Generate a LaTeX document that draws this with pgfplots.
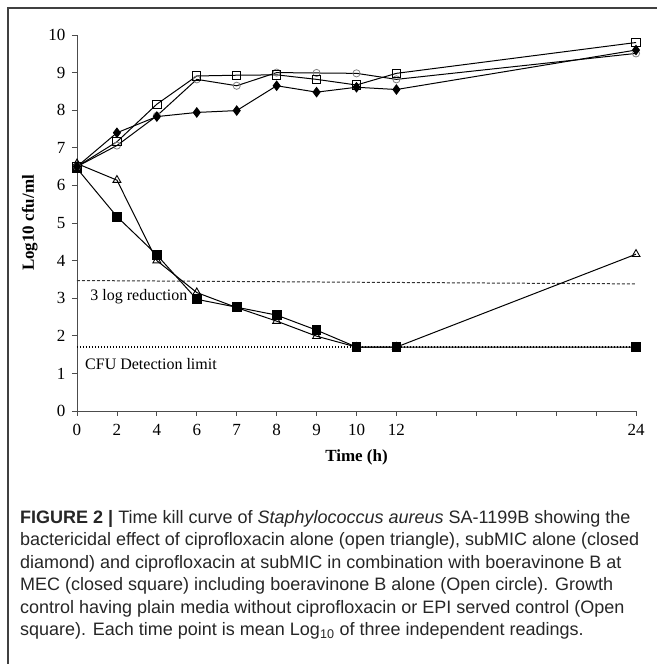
\documentclass[border=0pt]{standalone}
\usepackage{fontspec}
\setmainfont{Liberation Serif}
\newfontfamily\capfont{Liberation Sans}
\usepackage{pgfplots}
\pgfplotsset{compat=1.18}
\begin{document}
\begin{tikzpicture}[x=1pt,y=1pt]
\useasboundingbox (0,0) rectangle (657,664);
\draw[black!75, line width=1.2pt] (8,0) -- (8,656) -- (657,656);
\begin{axis}[
  at={(77pt,253pt)}, anchor=south west,
  scale only axis, width=559pt, height=376pt,
  xmin=0, xmax=14, ymin=0, ymax=10,
  axis lines=left, axis line style={-, black!70, line width=0.8pt},
  xtick={0,1,2,3,4,5,6,7,8,9,10,11,12,13,14},
  xticklabels={0,2,4,6,7,8,9,10,12,,,,,,24},
  ytick={0,1,2,3,4,5,6,7,8,9,10},
  tick align=outside, major tick length=5pt,
  tick style={black!70, line width=0.8pt},
  /pgf/number format/assume math mode=true,
  tick label style={font=\fontsize{17}{20}\selectfont},
  xticklabel style={yshift=-5pt},
  yticklabel style={xshift=-3pt},
  xlabel={\textbf{Time (h)}}, ylabel={\textbf{Log10 cfu/ml}},
  label style={font=\fontsize{17}{20}\selectfont},
  xlabel style={yshift=-7pt},
  ylabel style={yshift=4pt},
  clip=false,
  every axis plot/.append style={line width=1pt, black},
]
% reference lines
\addplot[densely dashed, line width=1pt, black!80, mark=none] coordinates {(0,3.47) (14,3.38)};
\addplot[dotted, line width=1.8pt, black, mark=none] coordinates {(0,1.7) (14,1.7)};
% ciprofloxacin alone (open triangle)
\addplot[mark=triangle, mark size=4.6pt, mark options={fill=white, line width=0.9pt}] coordinates {
(0,6.58) (1,6.14) (2,4.00) (3,3.15) (4,2.75) (5,2.39) (6,1.99) (7,1.70) (8,1.70) (14,4.17)};
% combination (closed square)
\addplot[mark=square*, mark size=4.4pt] coordinates {
(0,6.45) (1,5.17) (2,4.15) (3,2.97) (4,2.76) (5,2.55) (6,2.15) (7,1.70) (8,1.70) (14,1.70)};
% boeravinone B alone (open circle)
\addplot[mark=o, mark size=3.6pt, mark options={draw=black!50, line width=0.8pt}] coordinates {
(0,6.5) (1,7.06) (2,7.85) (3,8.82) (4,8.65) (5,9.00) (6,8.99) (7,8.98) (8,8.82) (14,9.51)};
% subMIC alone (closed diamond)
\addplot[mark=diamond*, mark size=4.6pt] coordinates {
(0,6.5) (1,7.40) (2,7.83) (3,7.94) (4,7.99) (5,8.65) (6,8.48) (7,8.61) (8,8.55) (14,9.60)};
% growth control (open square)
\addplot[mark=square, mark size=4.1pt, mark options={fill=white, line width=0.9pt}] coordinates {
(0,6.5) (1,7.16) (2,8.16) (3,8.91) (4,8.93) (5,8.94) (6,8.82) (7,8.67) (8,8.98) (14,9.80)};
\node[anchor=west, font=\fontsize{16}{19}\selectfont, inner sep=0pt] at (axis cs:0.33,3.03) {3 log reduction};
\node[anchor=west, font=\fontsize{16}{19}\selectfont, inner sep=0pt] at (axis cs:0.2,1.25) {CFU Detection limit};
\end{axis}
\node[anchor=north west, align=left, inner sep=0pt, text=black!85,
      font=\capfont\fontsize{18}{22.5}\selectfont] at (20,154)
{\textbf{FIGURE 2 |} Time kill curve of \textit{Staphylococcus aureus} SA-1199B showing the\\
bactericidal effect of ciprofloxacin alone (open triangle), subMIC alone (closed\\
diamond) and ciprofloxacin at subMIC in combination with boeravinone B at\\
MEC (closed square) including boeravinone B alone (Open circle). Growth\\
control having plain media without ciprofloxacin or EPI served control (Open\\
square). Each time point is mean Log\textsubscript{10} of three independent readings.};
\end{tikzpicture}
\end{document}
